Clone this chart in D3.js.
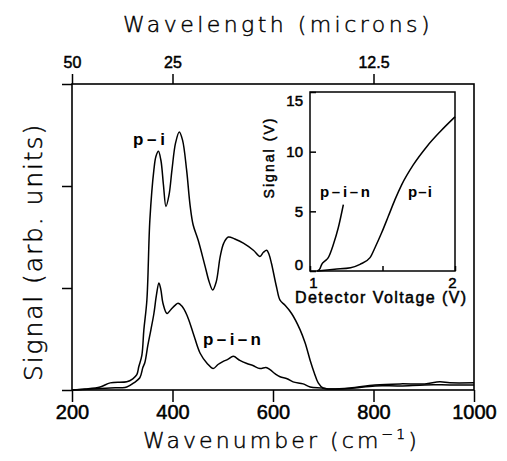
<!DOCTYPE html>
<html>
<head>
<meta charset="utf-8">
<script src="https://cdn.jsdelivr.net/npm/d3@7"></script>
<style>
  html, body { margin: 0; padding: 0; background: #fff; }
  svg { display: block; }
</style>
</head>
<body>
<svg id="chart" width="507" height="461"></svg>
<script>
// ---------------- DATA ----------------
// Main spectrum: wavenumber (cm^-1) vs signal (arb. units)
const piWavenumber = [200, 226, 256, 276, 309, 321, 329, 333, 339, 343, 349, 355, 363, 367, 372, 377, 382, 387, 393, 399, 406, 413.5, 420, 428, 435, 441, 451, 465, 473, 480, 487, 495, 502, 511, 524, 541, 561, 574, 581, 587.5, 592, 597, 607, 614, 624, 637, 654, 664, 674, 682, 690, 699.5, 713, 753, 803, 853, 902, 932, 952, 1000];
const piSignal     = [0.0, 0.01, 0.03, 0.07, 0.08, 0.11, 0.15, 0.23, 0.34, 0.59, 0.88, 1.67, 2.16, 2.29, 2.34, 2.25, 2.01, 1.80, 1.91, 2.16, 2.42, 2.53, 2.45, 2.16, 1.81, 1.62, 1.47, 1.21, 1.06, 0.98, 1.06, 1.31, 1.44, 1.50, 1.48, 1.44, 1.37, 1.31, 1.35, 1.37, 1.33, 1.24, 1.01, 0.88, 0.83, 0.75, 0.59, 0.46, 0.29, 0.17, 0.07, 0.02, 0.01, 0.02, 0.05, 0.06, 0.06, 0.08, 0.07, 0.07];

const pinWavenumber = [200, 256, 276, 309, 323, 335, 341, 345, 351, 357, 363, 368, 373, 377, 381, 389, 397, 405, 411, 419, 429, 441, 455, 469, 481, 490.5, 501, 510, 521, 534, 548, 560, 574, 586, 594, 604, 614, 628, 640, 660, 674, 697, 713, 753, 803, 853, 902, 952, 1000];
const pinSignal     = [0.0, 0.015, 0.02, 0.03, 0.07, 0.12, 0.22, 0.27, 0.44, 0.59, 0.75, 0.93, 1.05, 0.98, 0.85, 0.75, 0.79, 0.83, 0.85, 0.82, 0.73, 0.56, 0.36, 0.26, 0.21, 0.25, 0.28, 0.30, 0.33, 0.29, 0.26, 0.24, 0.21, 0.22, 0.20, 0.16, 0.13, 0.11, 0.08, 0.06, 0.03, 0.02, 0.01, 0.015, 0.04, 0.04, 0.05, 0.05, 0.05];

// Inset: detector voltage (V) vs signal (V)
const insetPiVoltage = [1.05, 1.17, 1.28, 1.345, 1.414, 1.448, 1.494, 1.540, 1.586, 1.632, 1.712, 1.805, 1.897, 2.0];
const insetPiSignal  = [0.0, 0.15, 0.28, 0.56, 1.12, 1.95, 3.2, 4.58, 5.98, 7.22, 8.89, 10.42, 11.67, 12.92];
const insetPinVoltage = [1.05, 1.069, 1.081, 1.103, 1.126, 1.161, 1.195, 1.230];
const insetPinSignal  = [0.0, 0.2, 0.56, 0.83, 1.12, 2.22, 3.62, 5.56];

// Tick values / labels
const wavenumberTicks = [200, 400, 600, 800, 1000];
const wavelengthTicks = [50, 25, 12.5];           // microns (top axis)
const signalTicks = [0, 1, 2, 3];                  // unlabeled
const insetSignalTicks = [0, 5, 10, 15];
const insetVoltageTicks = [1, 1.5, 2];
const insetVoltageLabels = ["1", "", "2"];

// ---------------- LAYOUT ----------------
const svg = d3.select("#chart");
const TITLE_FONT = "'DejaVu Sans', 'Liberation Sans', sans-serif";
const TICK_FONT = "'Liberation Sans', Arial, sans-serif";

const x = d3.scaleLinear().domain([200, 1000]).range([72, 474]);
const y = d3.scaleLinear().domain([0, 3]).range([390, 84]);

const xi = d3.scaleLinear().domain([1, 2]).range([310, 455]);
const yi = d3.scaleLinear().domain([0, 15]).range([271, 92]);

function fitText(sel, target) {
  const node = sel.node();
  const w = node.getComputedTextLength();
  const n = node.textContent.length;
  if (n > 1) sel.attr("letter-spacing", ((target - w) / (n - 1)).toFixed(2));
}

function styleAxis(g, fontSize, weight, strokeW) {
  g.select(".domain").remove();
  g.selectAll(".tick line").attr("stroke", "#000").attr("stroke-width", 1.5);
  g.selectAll(".tick text")
    .attr("fill", "#000")
    .attr("stroke", "#000").attr("stroke-width", strokeW || 0)
    .style("font-family", TICK_FONT)
    .style("font-size", fontSize + "px")
    .style("font-weight", weight);
}

// ---------- main axes ----------
const gBottom = svg.append("g").attr("transform", `translate(0,${y(0)})`)
  .call(d3.axisBottom(x).tickValues(wavenumberTicks).tickFormat(d3.format("d"))
    .tickSize(12).tickSizeOuter(0).tickPadding(3));
styleAxis(gBottom, 20, "normal", 0.5);

const gTop = svg.append("g").attr("transform", `translate(0,${y(3)})`)
  .call(d3.axisTop(x).tickValues(wavelengthTicks.map(l => 10000 / l))
    .tickFormat(d => String(+(10000 / d).toFixed(1))).tickSize(10).tickSizeOuter(0).tickPadding(6));
styleAxis(gTop, 16, "normal", 0.5);

const gLeft = svg.append("g").attr("transform", `translate(${x(200)},0)`)
  .call(d3.axisLeft(y).tickValues(signalTicks).tickFormat("").tickSize(10).tickSizeOuter(0));
styleAxis(gLeft, 12, "normal", 0);

// frame
svg.append("rect")
  .attr("x", x(200)).attr("y", y(3))
  .attr("width", x(1000) - x(200)).attr("height", y(0) - y(3))
  .attr("fill", "none").attr("stroke", "#000").attr("stroke-width", 1.6);

// ---------- main curves ----------
const mainLine = d3.line()
  .x(d => x(d[0])).y(d => y(d[1]))
  .curve(d3.curveCatmullRom.alpha(0.5));

svg.append("path")
  .datum(piWavenumber.map((w, i) => [w, piSignal[i]]))
  .attr("d", mainLine)
  .attr("fill", "none").attr("stroke", "#000").attr("stroke-width", 1.5);

svg.append("path")
  .datum(pinWavenumber.map((w, i) => [w, pinSignal[i]]))
  .attr("d", mainLine)
  .attr("fill", "none").attr("stroke", "#000").attr("stroke-width", 1.5);

// ---------- main titles ----------
function title(sel) {
  return sel.style("font-family", TITLE_FONT).style("font-size", "22px").style("font-weight", 200)
    .attr("fill", "#000").attr("stroke", "#000").attr("stroke-width", 0.45);
}
const tTop = title(svg.append("text").attr("x", 123).attr("y", 32))
  .text("Wavelength  (microns)");
fitText(tTop, 310);

const tBottom = title(svg.append("text").attr("x", 143).attr("y", 448));
tBottom.append("tspan").text("Wavenumber  (cm");
tBottom.append("tspan").attr("dy", -9).style("font-size", "14px").text("−1");
tBottom.append("tspan").attr("dy", 9).text(")");
fitText(tBottom, 277);

const tLeft = title(svg.append("text")
  .attr("transform", "translate(42,252) rotate(-90)")
  .attr("text-anchor", "middle"))
  .style("font-size", "25px")
  .text("Signal  (arb.  units)");
fitText(tLeft, 260);

// ---------- curve labels (main) ----------
function label(txt, xx, yy, size, width) {
  const t = svg.append("text").attr("x", xx).attr("y", yy)
    .style("font-family", TICK_FONT).style("font-size", size + "px")
    .style("font-weight", "bold").text(txt);
  fitText(t, width);
  return t;
}
label("p–i", 133, 145, 17, 32);
label("p–i–n", 203, 345, 17, 58);

// ---------- inset ----------
const inset = svg.append("g");
inset.append("rect")
  .attr("x", xi(1)).attr("y", yi(15))
  .attr("width", xi(2) - xi(1)).attr("height", yi(0) - yi(15))
  .attr("fill", "#fff").attr("stroke", "#000").attr("stroke-width", 1.5);

const giLeft = inset.append("g").attr("transform", `translate(${xi(1)},0)`)
  .call(d3.axisLeft(yi).tickValues(insetSignalTicks).tickSize(-6).tickSizeOuter(0).tickPadding(7));
styleAxis(giLeft, 15, "normal", 0.5);
giLeft.selectAll(".tick text").attr("y", d => d === 15 ? 9 : (d === 0 ? -6 : 0));

const giBottom = inset.append("g").attr("transform", `translate(0,${yi(0)})`)
  .call(d3.axisBottom(xi).tickValues(insetVoltageTicks)
    .tickFormat((d, i) => insetVoltageLabels[i]).tickSize(-5).tickSizeOuter(0).tickPadding(6));
styleAxis(giBottom, 15, "normal", 0.5);
giBottom.selectAll(".tick text").attr("x", d => d === 1 ? 3 : (d === 2 ? -3 : 0));

const insetLine = d3.line()
  .x(d => xi(d[0])).y(d => yi(d[1]))
  .curve(d3.curveMonotoneX);

inset.append("path")
  .datum(insetPiVoltage.map((v, i) => [v, insetPiSignal[i]]))
  .attr("d", insetLine)
  .attr("fill", "none").attr("stroke", "#000").attr("stroke-width", 1.5);
inset.append("path")
  .datum(insetPinVoltage.map((v, i) => [v, insetPinSignal[i]]))
  .attr("d", insetLine)
  .attr("fill", "none").attr("stroke", "#000").attr("stroke-width", 1.5);

const tiX = inset.append("text")
  .attr("x", 295).attr("y", 303)
  .style("font-family", TICK_FONT).style("font-size", "16px")
  .attr("stroke", "#000").attr("stroke-width", 0.5)
  .text("Detector  Voltage  (V)");
fitText(tiX, 174);

const tiY = inset.append("text")
  .attr("transform", "translate(274,157.5) rotate(-90)")
  .attr("text-anchor", "middle")
  .style("font-family", TICK_FONT).style("font-size", "14px")
  .attr("stroke", "#000").attr("stroke-width", 0.5)
  .text("Signal  (V)");
fitText(tiY, 82);

label("p–i–n", 320, 197, 15, 50);
label("p–i", 408, 197, 15, 24);
</script>
</body>
</html>
